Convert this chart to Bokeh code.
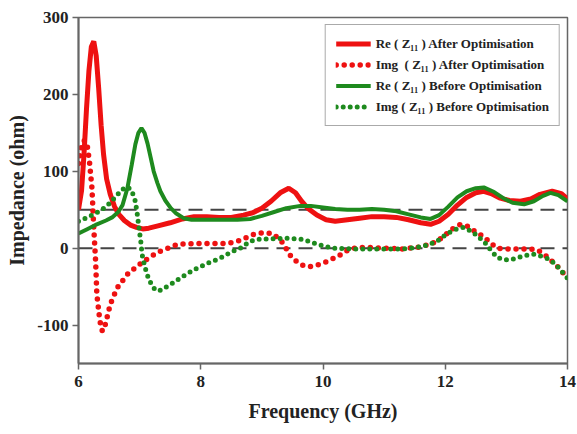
from bokeh.plotting import figure
from bokeh.models import Span, Legend, LegendItem, FixedTicker
from bokeh.embed import file_html
from bokeh.resources import INLINE

# ---- data ----
re_after_f = [6.00, 6.05, 6.09, 6.13, 6.17, 6.21, 6.25, 6.29, 6.33, 6.37, 6.41, 6.46, 6.52, 6.59, 6.66,
              6.75, 6.85, 6.95, 7.05, 7.15, 7.30, 7.50, 7.70, 7.89, 8.10, 8.30, 8.50, 8.70, 8.85, 9.00,
              9.15, 9.30, 9.44, 9.55, 9.65, 9.75, 9.90, 10.05, 10.20, 10.40, 10.60, 10.80, 11.00, 11.20,
              11.40, 11.60, 11.76, 11.90, 12.05, 12.20, 12.35, 12.50, 12.63, 12.75, 12.90, 13.05, 13.23,
              13.40, 13.55, 13.75, 13.90, 14.00]
re_after_v = [50, 75, 122, 180, 230, 262, 269, 250, 208, 160, 122, 90, 70, 54, 44,
              36, 30, 27, 25, 26, 29, 33, 38, 41, 41, 40, 40, 43, 46, 52,
              61, 72, 78, 72, 61, 52, 43, 37, 35, 37, 39, 41, 41, 40,
              37, 33, 31, 35, 44, 56, 66, 72, 74, 71, 65, 62, 61,
              64, 70, 74, 71, 64]

img_after_f = [6.00, 6.03, 6.06, 6.10, 6.14, 6.18, 6.22, 6.25, 6.28, 6.30, 6.35, 6.39, 6.44, 6.52, 6.63,
               6.80, 6.95, 7.07, 7.20, 7.34, 7.50, 7.62, 7.89, 8.20, 8.43, 8.60, 8.75, 8.90, 9.05, 9.17,
               9.30, 9.36, 9.45, 9.53, 9.63, 9.72, 9.80, 9.90, 10.02, 10.12, 10.24, 10.35, 10.45, 10.60,
               10.72, 11.00, 11.30, 11.54, 11.70, 11.87, 12.00, 12.12, 12.25, 12.38, 12.50, 12.63, 12.75,
               12.85, 13.00, 13.20, 13.35, 13.50, 13.62, 13.72, 13.85, 14.00]
img_after_v = [110, 125, 137, 140, 135, 112, 78, 26, -17, -60, -95, -108, -99, -73, -52,
               -34, -24, -17, -10, -4, 1, 5, 6, 6, 6, 9, 14, 19, 20, 19,
               11, 5, -8, -15, -21, -24, -24, -22, -19, -15, -11, -5, -1, 1,
               1, 0, -1, 1, 4, 9, 17, 25, 31, 28, 21, 15, 6,
               0, -1, -1, -1, -2, -8, -15, -25, -39]

re_before_f = [6.00, 6.15, 6.30, 6.45, 6.55, 6.65, 6.72, 6.80, 6.87, 6.93, 6.98, 7.03, 7.08, 7.13, 7.18,
               7.23, 7.29, 7.34, 7.42, 7.51, 7.60, 7.72, 7.85, 8.00, 8.20, 8.40, 8.60, 8.81, 9.00, 9.20,
               9.40, 9.63, 9.80, 10.00, 10.20, 10.40, 10.60, 10.80, 11.00, 11.20, 11.40, 11.60, 11.76,
               11.90, 12.05, 12.20, 12.35, 12.50, 12.63, 12.80, 12.95, 13.10, 13.29, 13.45, 13.60, 13.72,
               13.85, 14.00]
re_before_v = [19, 25, 31, 36, 40, 47, 56, 78, 108, 135, 150, 156, 150, 136, 118,
               100, 85, 74, 62, 52, 45, 39, 37, 37, 37, 37, 37, 38, 42, 47,
               52, 55, 55, 53, 51, 50, 50, 51, 50, 48, 44, 40, 38,
               43, 54, 66, 74, 78, 79, 73, 65, 59, 57, 61, 68, 72,
               69, 61]

img_before_f = [6.00, 6.12, 6.25, 6.40, 6.52, 6.62, 6.71, 6.80, 6.87, 6.93, 6.96, 6.99, 7.02, 7.04, 7.08,
                7.12, 7.18, 7.23, 7.31, 7.40, 7.51, 7.70, 7.89, 8.10, 8.32, 8.50, 8.65, 8.81, 8.98, 9.14,
                9.36, 9.63, 9.80, 9.91, 10.05, 10.18, 10.50, 11.00, 11.30, 11.54, 11.70, 11.87, 12.00,
                12.15, 12.30, 12.45, 12.55, 12.63, 12.75, 12.85, 12.95, 13.07, 13.20, 13.35, 13.45, 13.55,
                13.72, 13.85, 14.00]
img_before_v = [35, 39, 44, 51, 59, 68, 76, 80, 75, 61, 45, 26, 8, -8, -22,
                -34, -45, -52, -56, -52, -47, -37, -28, -20, -13, -5, 0, 9, 12, 12,
                13, 12, 8, 5, 2, 0, -1, -1, -1, 1, 4, 9, 17,
                24, 27, 21, 14, 9, -3, -12, -15, -15, -12, -9, -8, -10,
                -15, -25, -39]

ref_levels = [50, 0]
x_ticks = [6, 8, 10, 12, 14]
y_ticks = [-100, 0, 100, 200, 300]
y_tick_labels = {-100: "-100", 0: "0", 100: "100", 200: "200", 300: "300"}
series_labels = ["Re ( Z\u2081\u2081 ) After Optimisation",
                 "Img  ( Z\u2081\u2081 ) After Optimisation",
                 "Re ( Z\u2081\u2081 ) Before Optimisation",
                 "Img ( Z\u2081\u2081 ) Before Optimisation"]

RED = "#ee1111"
GREEN = "#1e8a1e"
FONT = "Liberation Serif"

p = figure(width=577, height=434, x_range=(6, 14), y_range=(-150, 300),
           output_backend="svg", toolbar_location=None,
           min_border_left=78, min_border_right=10, min_border_top=17, min_border_bottom=71)
p.background_fill_color = "white"
p.border_fill_color = "white"
p.outline_line_color = "#666666"
p.outline_line_width = 1.5
p.xgrid.visible = False
p.ygrid.visible = False

for lv in ref_levels:
    p.add_layout(Span(location=lv, dimension="width", line_color="#444444",
                      line_width=2, line_dash="14 8", level="underlay"))

r1 = p.line(re_after_f, re_after_v, line_color=RED, line_width=5)
r2 = p.line(img_after_f, img_after_v, line_color=RED, line_width=5.5, line_dash="0 8", line_cap="round")
r3 = p.line(re_before_f, re_before_v, line_color=GREEN, line_width=4)
r4 = p.line(img_before_f, img_before_v, line_color=GREEN, line_width=5, line_dash="0 7", line_cap="round")

for ax in (p.xaxis[0], p.yaxis[0]):
    ax.axis_line_color = "#666666"
    ax.axis_line_width = 2
    ax.major_tick_line_color = "#666666"
    ax.major_tick_line_width = 1.5
    ax.major_tick_in = 0
    ax.major_tick_out = 6
    ax.minor_tick_line_color = None
    ax.major_label_text_font = FONT
    ax.major_label_text_font_style = "bold"
    ax.major_label_text_font_size = "17px"
    ax.major_label_text_color = "#222222"
    ax.axis_label_text_font = FONT
    ax.axis_label_text_font_style = "bold"
    ax.axis_label_text_font_size = "20px"
    ax.axis_label_text_color = "#222222"

p.xaxis.ticker = FixedTicker(ticks=x_ticks)
p.yaxis.ticker = FixedTicker(ticks=y_ticks)
p.yaxis.major_label_overrides = y_tick_labels
p.xaxis.axis_label = "Frequency (GHz)"
p.yaxis.axis_label = "Impedance (ohm)"
p.xaxis.major_label_standoff = 6
p.yaxis.major_label_standoff = 4
p.xaxis.axis_label_standoff = 10
p.yaxis.axis_label_standoff = 6

legend = Legend(items=[LegendItem(label=series_labels[0], renderers=[r1]),
                       LegendItem(label=series_labels[1], renderers=[r2]),
                       LegendItem(label=series_labels[2], renderers=[r3]),
                       LegendItem(label=series_labels[3], renderers=[r4])],
                location="top_right", margin=7, padding=10, spacing=4,
                glyph_width=35, glyph_height=17, label_height=17, label_standoff=5,
                label_text_font=FONT, label_text_font_style="bold",
                label_text_font_size="13px", label_text_color="#222222",
                border_line_color="#555555", border_line_width=1.5,
                background_fill_color="white", background_fill_alpha=1)
p.add_layout(legend, "center")

open("out.html", "w").write(file_html(p, INLINE))
